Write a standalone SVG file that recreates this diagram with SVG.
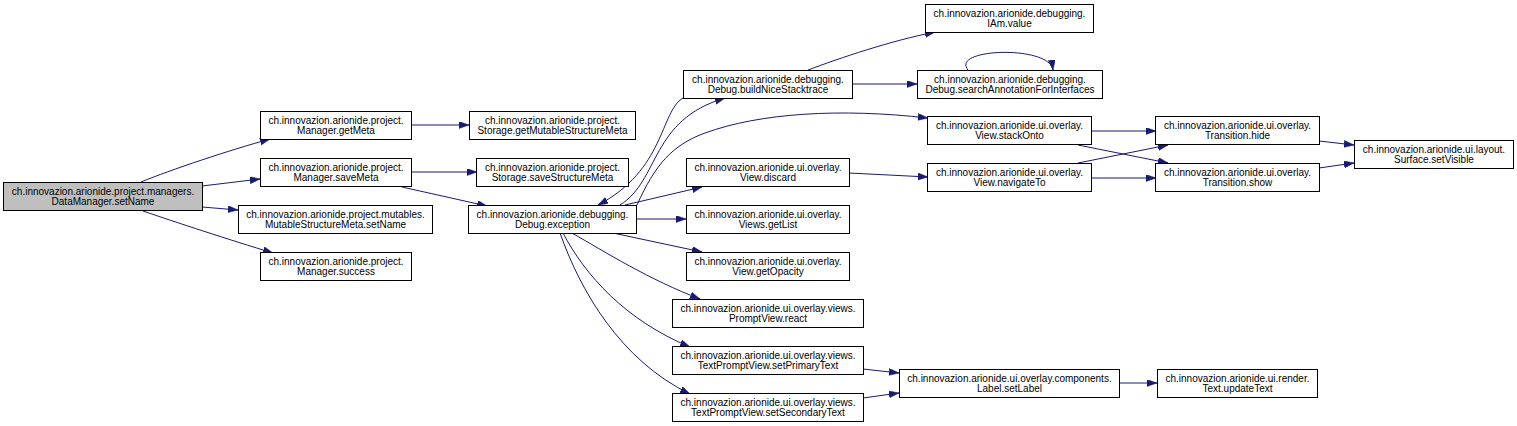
<svg xmlns="http://www.w3.org/2000/svg" width="1517" height="426" viewBox="0 0 1517 426">
<style>
.n rect{fill:#ffffff;stroke:#000000;stroke-width:1}
.n.root rect{fill:#bfbfbf}
.n text{font-family:"Liberation Sans",Arial,Helvetica,sans-serif;font-size:10px;fill:#000000;text-anchor:middle}
.e path{fill:none;stroke:#191970;stroke-width:1;marker-end:url(#ah)}
</style>
<defs>
<marker id="ah" markerUnits="userSpaceOnUse" markerWidth="11" markerHeight="8" refX="10" refY="3.5" orient="auto">
<path d="M0,0 L10,3.5 L0,7 z" fill="#191970" stroke="#191970" stroke-width="0.5"/>
</marker>
</defs>
<rect width="1517" height="426" fill="#ffffff"/>
<g id="edges" class="e">
<path d="M141,182 C170,170 230,150 270,139"/>
<path d="M202,186 L260,179"/>
<path d="M202,207 L238,210"/>
<path d="M143,211 C175,222 230,240 273,253"/>
<path d="M411,125 L469,125"/>
<path d="M411,172 L477,172"/>
<path d="M402,187 L487,206"/>
<path d="M620,205 C660,180 650,120 725,98"/>
<path d="M683,98 C660,112 665,170 598,205"/>
<path d="M637,205 C655,165 672,145 705,133 C760,113 840,108 928,118"/>
<path d="M625,205 L702,187"/>
<path d="M637,219 L686,219"/>
<path d="M613,233 L702,252"/>
<path d="M572,233 C605,252 650,280 700,299"/>
<path d="M563,233 C585,275 625,320 690,347"/>
<path d="M560,233 C580,290 620,360 690,394"/>
<path d="M808,70 C840,58 890,41 935,32"/>
<path d="M852,84 L917,84"/>
<path d="M968,70 C950,48 1050,45 1053,70"/>
<path d="M849,173 L928,177"/>
<path d="M1092,131 L1156,131"/>
<path d="M1078,145 L1168,163"/>
<path d="M1078,163 L1168,145"/>
<path d="M1092,178 L1156,178"/>
<path d="M1319,141 L1354,145"/>
<path d="M1319,168 L1354,163"/>
<path d="M863,369 L899,373"/>
<path d="M863,398 L899,393"/>
<path d="M1119,383 L1157,383"/>
</g>
<g id="n_setName" class="n root"><rect x="3.5" y="182.5" width="199" height="28"/><text x="103" y="194.5">ch.innovazion.arionide.project.managers.</text><text x="103" y="205">DataManager.setName</text></g>
<g id="n_getMeta" class="n"><rect x="260.5" y="111.5" width="151" height="28"/><text x="336" y="123.5">ch.innovazion.arionide.project.</text><text x="336" y="134">Manager.getMeta</text></g>
<g id="n_saveMeta" class="n"><rect x="260.5" y="158.5" width="151" height="28"/><text x="336" y="170.5">ch.innovazion.arionide.project.</text><text x="336" y="181">Manager.saveMeta</text></g>
<g id="n_mutSetName" class="n"><rect x="238.5" y="205.5" width="194" height="28"/><text x="335.5" y="217.5">ch.innovazion.arionide.project.mutables.</text><text x="335.5" y="228">MutableStructureMeta.setName</text></g>
<g id="n_success" class="n"><rect x="260.5" y="252.5" width="151" height="28"/><text x="336" y="264.5">ch.innovazion.arionide.project.</text><text x="336" y="275">Manager.success</text></g>
<g id="n_getMutable" class="n"><rect x="469.5" y="111.5" width="166" height="28"/><text x="552.5" y="123.5">ch.innovazion.arionide.project.</text><text x="552.5" y="134">Storage.getMutableStructureMeta</text></g>
<g id="n_saveStructure" class="n"><rect x="476.5" y="158.5" width="152" height="28"/><text x="552.5" y="170.5">ch.innovazion.arionide.project.</text><text x="552.5" y="181">Storage.saveStructureMeta</text></g>
<g id="n_exception" class="n"><rect x="468.5" y="205.5" width="168" height="28"/><text x="552.5" y="217.5">ch.innovazion.arionide.debugging.</text><text x="552.5" y="228">Debug.exception</text></g>
<g id="n_buildNice" class="n"><rect x="683.5" y="70.5" width="169" height="28"/><text x="768" y="82.5">ch.innovazion.arionide.debugging.</text><text x="768" y="93">Debug.buildNiceStacktrace</text></g>
<g id="n_discard" class="n"><rect x="686.5" y="158.5" width="163" height="28"/><text x="768" y="170.5">ch.innovazion.arionide.ui.overlay.</text><text x="768" y="181">View.discard</text></g>
<g id="n_getList" class="n"><rect x="686.5" y="205.5" width="163" height="28"/><text x="768" y="217.5">ch.innovazion.arionide.ui.overlay.</text><text x="768" y="228">Views.getList</text></g>
<g id="n_getOpacity" class="n"><rect x="686.5" y="252.5" width="163" height="28"/><text x="768" y="264.5">ch.innovazion.arionide.ui.overlay.</text><text x="768" y="275">View.getOpacity</text></g>
<g id="n_react" class="n"><rect x="672.5" y="299.5" width="191" height="28"/><text x="768" y="311.5">ch.innovazion.arionide.ui.overlay.views.</text><text x="768" y="322">PromptView.react</text></g>
<g id="n_primary" class="n"><rect x="672.5" y="346.5" width="191" height="28"/><text x="768" y="358.5">ch.innovazion.arionide.ui.overlay.views.</text><text x="768" y="369">TextPromptView.setPrimaryText</text></g>
<g id="n_secondary" class="n"><rect x="672.5" y="393.5" width="191" height="28"/><text x="768" y="405.5">ch.innovazion.arionide.ui.overlay.views.</text><text x="768" y="416">TextPromptView.setSecondaryText</text></g>
<g id="n_iam" class="n"><rect x="925.5" y="4.5" width="168" height="28"/><text x="1009.5" y="16.5">ch.innovazion.arionide.debugging.</text><text x="1009.5" y="27">IAm.value</text></g>
<g id="n_search" class="n"><rect x="917.5" y="70.5" width="185" height="28"/><text x="1010" y="82.5">ch.innovazion.arionide.debugging.</text><text x="1010" y="93">Debug.searchAnnotationForInterfaces</text></g>
<g id="n_stackOnto" class="n"><rect x="927.5" y="116.5" width="164" height="28"/><text x="1009.5" y="128.5">ch.innovazion.arionide.ui.overlay.</text><text x="1009.5" y="139">View.stackOnto</text></g>
<g id="n_navigateTo" class="n"><rect x="927.5" y="163.5" width="164" height="28"/><text x="1009.5" y="175.5">ch.innovazion.arionide.ui.overlay.</text><text x="1009.5" y="186">View.navigateTo</text></g>
<g id="n_hide" class="n"><rect x="1155.5" y="116.5" width="164" height="28"/><text x="1237.5" y="128.5">ch.innovazion.arionide.ui.overlay.</text><text x="1237.5" y="139">Transition.hide</text></g>
<g id="n_show" class="n"><rect x="1155.5" y="163.5" width="164" height="28"/><text x="1237.5" y="175.5">ch.innovazion.arionide.ui.overlay.</text><text x="1237.5" y="186">Transition.show</text></g>
<g id="n_setVisible" class="n"><rect x="1354.5" y="140.5" width="159" height="28"/><text x="1434" y="152.5">ch.innovazion.arionide.ui.layout.</text><text x="1434" y="163">Surface.setVisible</text></g>
<g id="n_setLabel" class="n"><rect x="899.5" y="369.5" width="220" height="28"/><text x="1009.5" y="381.5">ch.innovazion.arionide.ui.overlay.components.</text><text x="1009.5" y="392">Label.setLabel</text></g>
<g id="n_updateText" class="n"><rect x="1157.5" y="369.5" width="160" height="28"/><text x="1237.5" y="381.5">ch.innovazion.arionide.ui.render.</text><text x="1237.5" y="392">Text.updateText</text></g>
</svg>
